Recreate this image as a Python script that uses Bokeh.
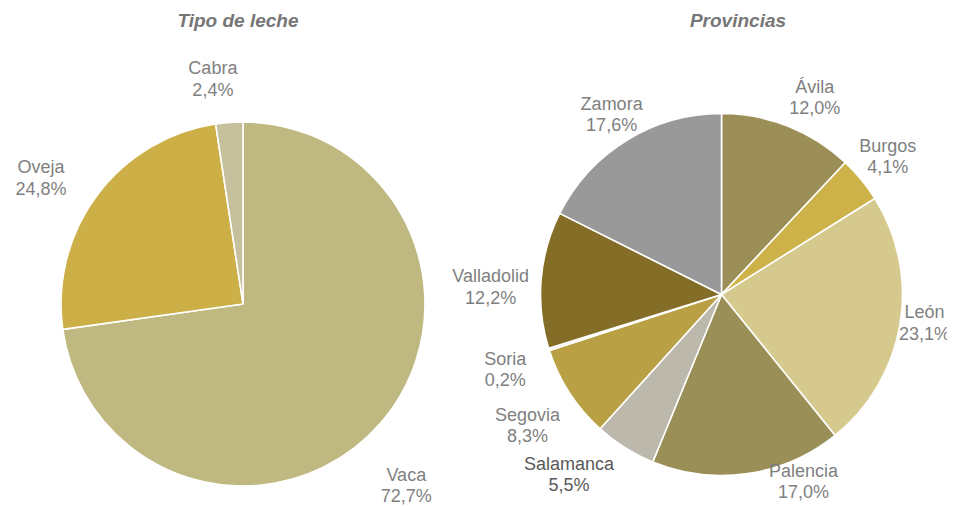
import math
from bokeh.plotting import figure
from bokeh.models import Range1d, ColumnDataSource
from bokeh.core.properties import value
from bokeh.embed import file_html
from bokeh.resources import INLINE

# ---- data ----
milk_types = ["Vaca", "Oveja", "Cabra"]
milk_share = [72.7, 24.8, 2.4]
milk_colors = ["#BFB880", "#CCAF46", "#C6C19C"]

provinces = ["Ávila", "Burgos", "León", "Palencia", "Salamanca",
             "Segovia", "Soria", "Valladolid", "Zamora"]
province_share = [12.0, 4.1, 23.1, 17.0, 5.5, 8.3, 0.2, 12.2, 17.6]
province_colors = ["#9B8F57", "#CDB24A", "#D6C98E", "#9A8F57", "#BCB9AC",
                   "#BAA044", "#E4E2DA", "#846D27", "#999999"]

titles = ["Tipo de leche", "Provincias"]

# ---- layout (page pixel coordinates) ----
W, H = 947, 506
PAGE_X0, PAGE_Y0 = 0, 0

def py(y_page):
    return PAGE_Y0 + H - y_page

left_center = (242.5, 303.5)
left_radius = 182
right_center = (721, 294)
right_radius = 181

# label placement: (angle shift from slice mid in degrees, distance from centre in px)
milk_label_pos = [(7.0, 244), (-4.7, 238), (-3.3, 227)]
province_label_pos = [(3.7, 218), (-0.3, 216), (-1.5, 205), (-15.4, 204),
                      (8.0, 236), (-1.1, 234), (-1.5, 229), (-2.8, 231), (0.3, 211)]
label_colors_milk = ["#7F7F7F"] * 3
label_colors_prov = ["#7F7F7F", "#7F7F7F", "#7F7F7F", "#7F7F7F", "#595959",
                     "#7F7F7F", "#7F7F7F", "#7F7F7F", "#7F7F7F"]

p = figure(width=W, height=H, output_backend="svg", toolbar_location=None,
           x_range=Range1d(PAGE_X0, PAGE_X0 + W), y_range=Range1d(0, H),
           min_border=0, outline_line_color=None)
p.axis.visible = False
p.grid.visible = False
p.background_fill_color = "white"
p.border_fill_color = "white"

FONT = value("Liberation Sans")
LINE_GAP = 10.75


def fmt(v):
    return f"{v:.1f}".replace(".", ",") + "%"


def draw_pie(names, shares, colors, center, radius, label_pos, label_colors):
    total = sum(shares)
    starts, ends, mids = [], [], []
    acc = 0.0
    for s in shares:
        a0 = acc / total * 360.0
        acc += s
        a1 = acc / total * 360.0
        starts.append(math.radians(90 - a0))
        ends.append(math.radians(90 - a1))
        mids.append((a0 + a1) / 2)
    cx, cy = center[0], py(center[1])
    src = ColumnDataSource(dict(start=starts, end=ends, color=colors))
    p.wedge(x=cx, y=cy, radius=radius, start_angle="start", end_angle="end",
            direction="clock", fill_color="color", line_color="white",
            line_width=1.6, source=src)
    lx, ly1, ly2, t1, t2 = [], [], [], [], []
    for n, s, m, (shift, dist) in zip(names, shares, mids, label_pos):
        a = math.radians(m + shift)
        x = cx + dist * math.sin(a)
        y = cy + dist * math.cos(a)
        lx.append(x)
        ly1.append(y + LINE_GAP)
        ly2.append(y - LINE_GAP)
        t1.append(n)
        t2.append(fmt(s))
    lsrc = ColumnDataSource(dict(x=lx, y1=ly1, y2=ly2, t1=t1, t2=t2, c=label_colors))
    for ycol, tcol in (("y1", "t1"), ("y2", "t2")):
        p.text(x="x", y=ycol, text=tcol, source=lsrc, text_align="center",
               text_baseline="middle", text_font=FONT, text_font_size="18px",
               text_color="c")


draw_pie(milk_types, milk_share, milk_colors, left_center, left_radius,
         milk_label_pos, label_colors_milk)
draw_pie(provinces, province_share, province_colors, right_center, right_radius,
         province_label_pos, label_colors_prov)

title_x = [237.5, 737.5]
title_y = [py(20), py(20)]
p.text(x=title_x, y=title_y, text=titles, text_align="center",
       text_baseline="middle", text_font=FONT, text_font_size="19px",
       text_font_style="bold italic", text_color="#767676")

html = file_html(p, INLINE)
html = html.replace("</head>", "<style>html,body{overflow:hidden;}</style></head>", 1)
open("out.html", "w").write(html)
